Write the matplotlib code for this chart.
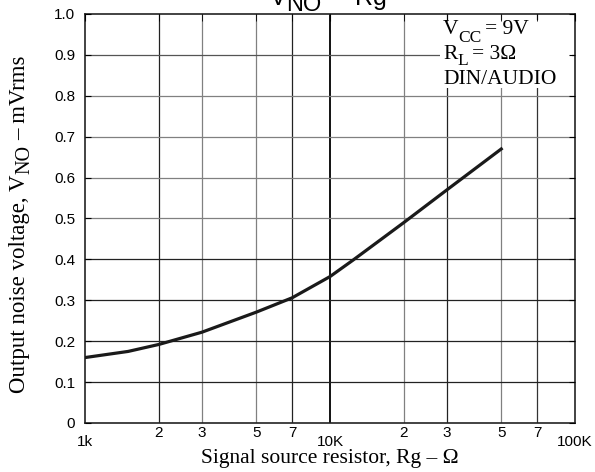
import numpy as np
import matplotlib
matplotlib.use('Agg')
import matplotlib.pyplot as plt
from matplotlib.patches import Rectangle

# data (Rg in ohm, noise in mVrms)
rg = [1e3, 1.5e3, 2e3, 3e3, 5e3, 7e3, 1e4, 1.24e4, 1.6e4, 2e4, 3e4, 5e4]
vno = [0.160, 0.175, 0.192, 0.222, 0.271, 0.306, 0.358, 0.398, 0.447, 0.490, 0.570, 0.670]

major_x = [1e3, 1e4, 1e5]
major_lbl = ['1k', '10K', '100K']
minor_x = [2e3, 3e3, 5e3, 7e3, 2e4, 3e4, 5e4, 7e4]
minor_lbl = ['2', '3', '5', '7', '2', '3', '5', '7']
yticks = [0, 0.1, 0.2, 0.3, 0.4, 0.5, 0.6, 0.7, 0.8, 0.9, 1.0]
ylbl = ['0', '0.1', '0.2', '0.3', '0.4', '0.5', '0.6', '0.7', '0.8', '0.9', '1.0']

# grid shades (dark / gray alternate like the datasheet scan)
vgrid = {2e3: '#222222', 3e3: '#808080', 5e3: '#808080', 7e3: '#222222',
         1e4: '#111111', 2e4: '#808080', 3e4: '#222222', 5e4: '#808080', 7e4: '#333333'}
hgrid = {0.1: '#222222', 0.2: '#222222', 0.3: '#222222', 0.4: '#222222',
         0.5: '#808080', 0.6: '#808080', 0.7: '#808080', 0.8: '#808080', 0.9: '#555555'}

sans = 'Liberation Sans'
serif = 'Liberation Serif'
W, H = 595, 472

fig = plt.figure(figsize=(5.95, 4.72), dpi=100)
rend = fig.canvas.get_renderer()


def rich(pieces, x, y, family, rot=False):
    # pieces: (text, size, drop in px, gap before in px); x, y in px from top-left
    for s, size, drop, gap in pieces:
        if rot:
            y -= gap
            t = fig.text((x + drop) / W, 1 - y / H, s, fontsize=size, family=family,
                         rotation=90, rotation_mode='anchor', ha='left', va='baseline')
            y -= t.get_window_extent(rend).height
        else:
            x += gap
            t = fig.text(x / W, 1 - (y + drop) / H, s, fontsize=size, family=family,
                         ha='left', va='baseline')
            x += t.get_window_extent(rend).width


ax = fig.add_axes([85/W, 49/H, 490/W, 409/H])
ax.set_xscale('log')
ax.set_xlim(1e3, 1e5)
ax.set_ylim(0, 1.0)
ax.set_axisbelow(False)

for xv, c in vgrid.items():
    ax.axvline(xv, color=c, lw=1.4 if xv == 1e4 else 0.9, zorder=1)
for yv, c in hgrid.items():
    ax.axhline(yv, color=c, lw=0.9, zorder=1)

# white patch behind the conditions text
ax.add_patch(Rectangle((0.724, 0.819), 0.27, 0.166, transform=ax.transAxes,
                       facecolor='white', edgecolor='none', zorder=2))

ax.plot(rg, vno, color='#1a1a1a', lw=2.3, zorder=3)

ax.set_xticks(major_x)
ax.set_xticklabels(major_lbl)
ax.set_xticks(minor_x, minor=True)
ax.set_xticklabels(minor_lbl, minor=True)
ax.set_yticks(yticks)
ax.set_yticklabels(ylbl)

ax.tick_params(axis='x', which='major', bottom=False, top=True, direction='in',
               length=5, pad=8.5, labelsize=11)
ax.tick_params(axis='x', which='minor', bottom=False, top=True, direction='in',
               length=5, pad=2.5, labelsize=11)
ax.tick_params(axis='y', left=True, right=True, direction='in', length=4, labelsize=11, pad=7)
for lab in ax.get_xticklabels(which='both') + ax.get_yticklabels():
    lab.set_fontfamily(sans)

for s in ax.spines.values():
    s.set_linewidth(1.2)
    s.set_color('#222222')

# title (cut at the top edge as in the scan)
rich([('V', 18, 0, 0), ('NO', 17, 6, 0), ('– Rg', 18, 0, 12)], 270, 5, sans)

# test conditions
rich([('V', 15.5, 0, 0), ('CC', 12.5, 8, 0), ('= 9V', 15.5, 0, 3)], 443, 34, serif)
rich([('R', 15.5, 0, 0), ('L', 12.5, 6, 0), ('= 3Ω', 15.5, 0, 4)], 443, 59, serif)
rich([('DIN/AUDIO', 15.5, 0, 0)], 443, 84, serif)

# axis titles
fig.text(330/W, 1 - 463/H, 'Signal source resistor, Rg – Ω', ha='center',
         va='baseline', fontsize=15.5, family=serif)
rich([('Output noise voltage, V', 16.5, 0, 0), ('NO', 14.5, 4, 0), ('– mVrms', 16.5, 0, 5)],
     25, 393, serif, rot=True)

fig.savefig('out.png', dpi=100)
